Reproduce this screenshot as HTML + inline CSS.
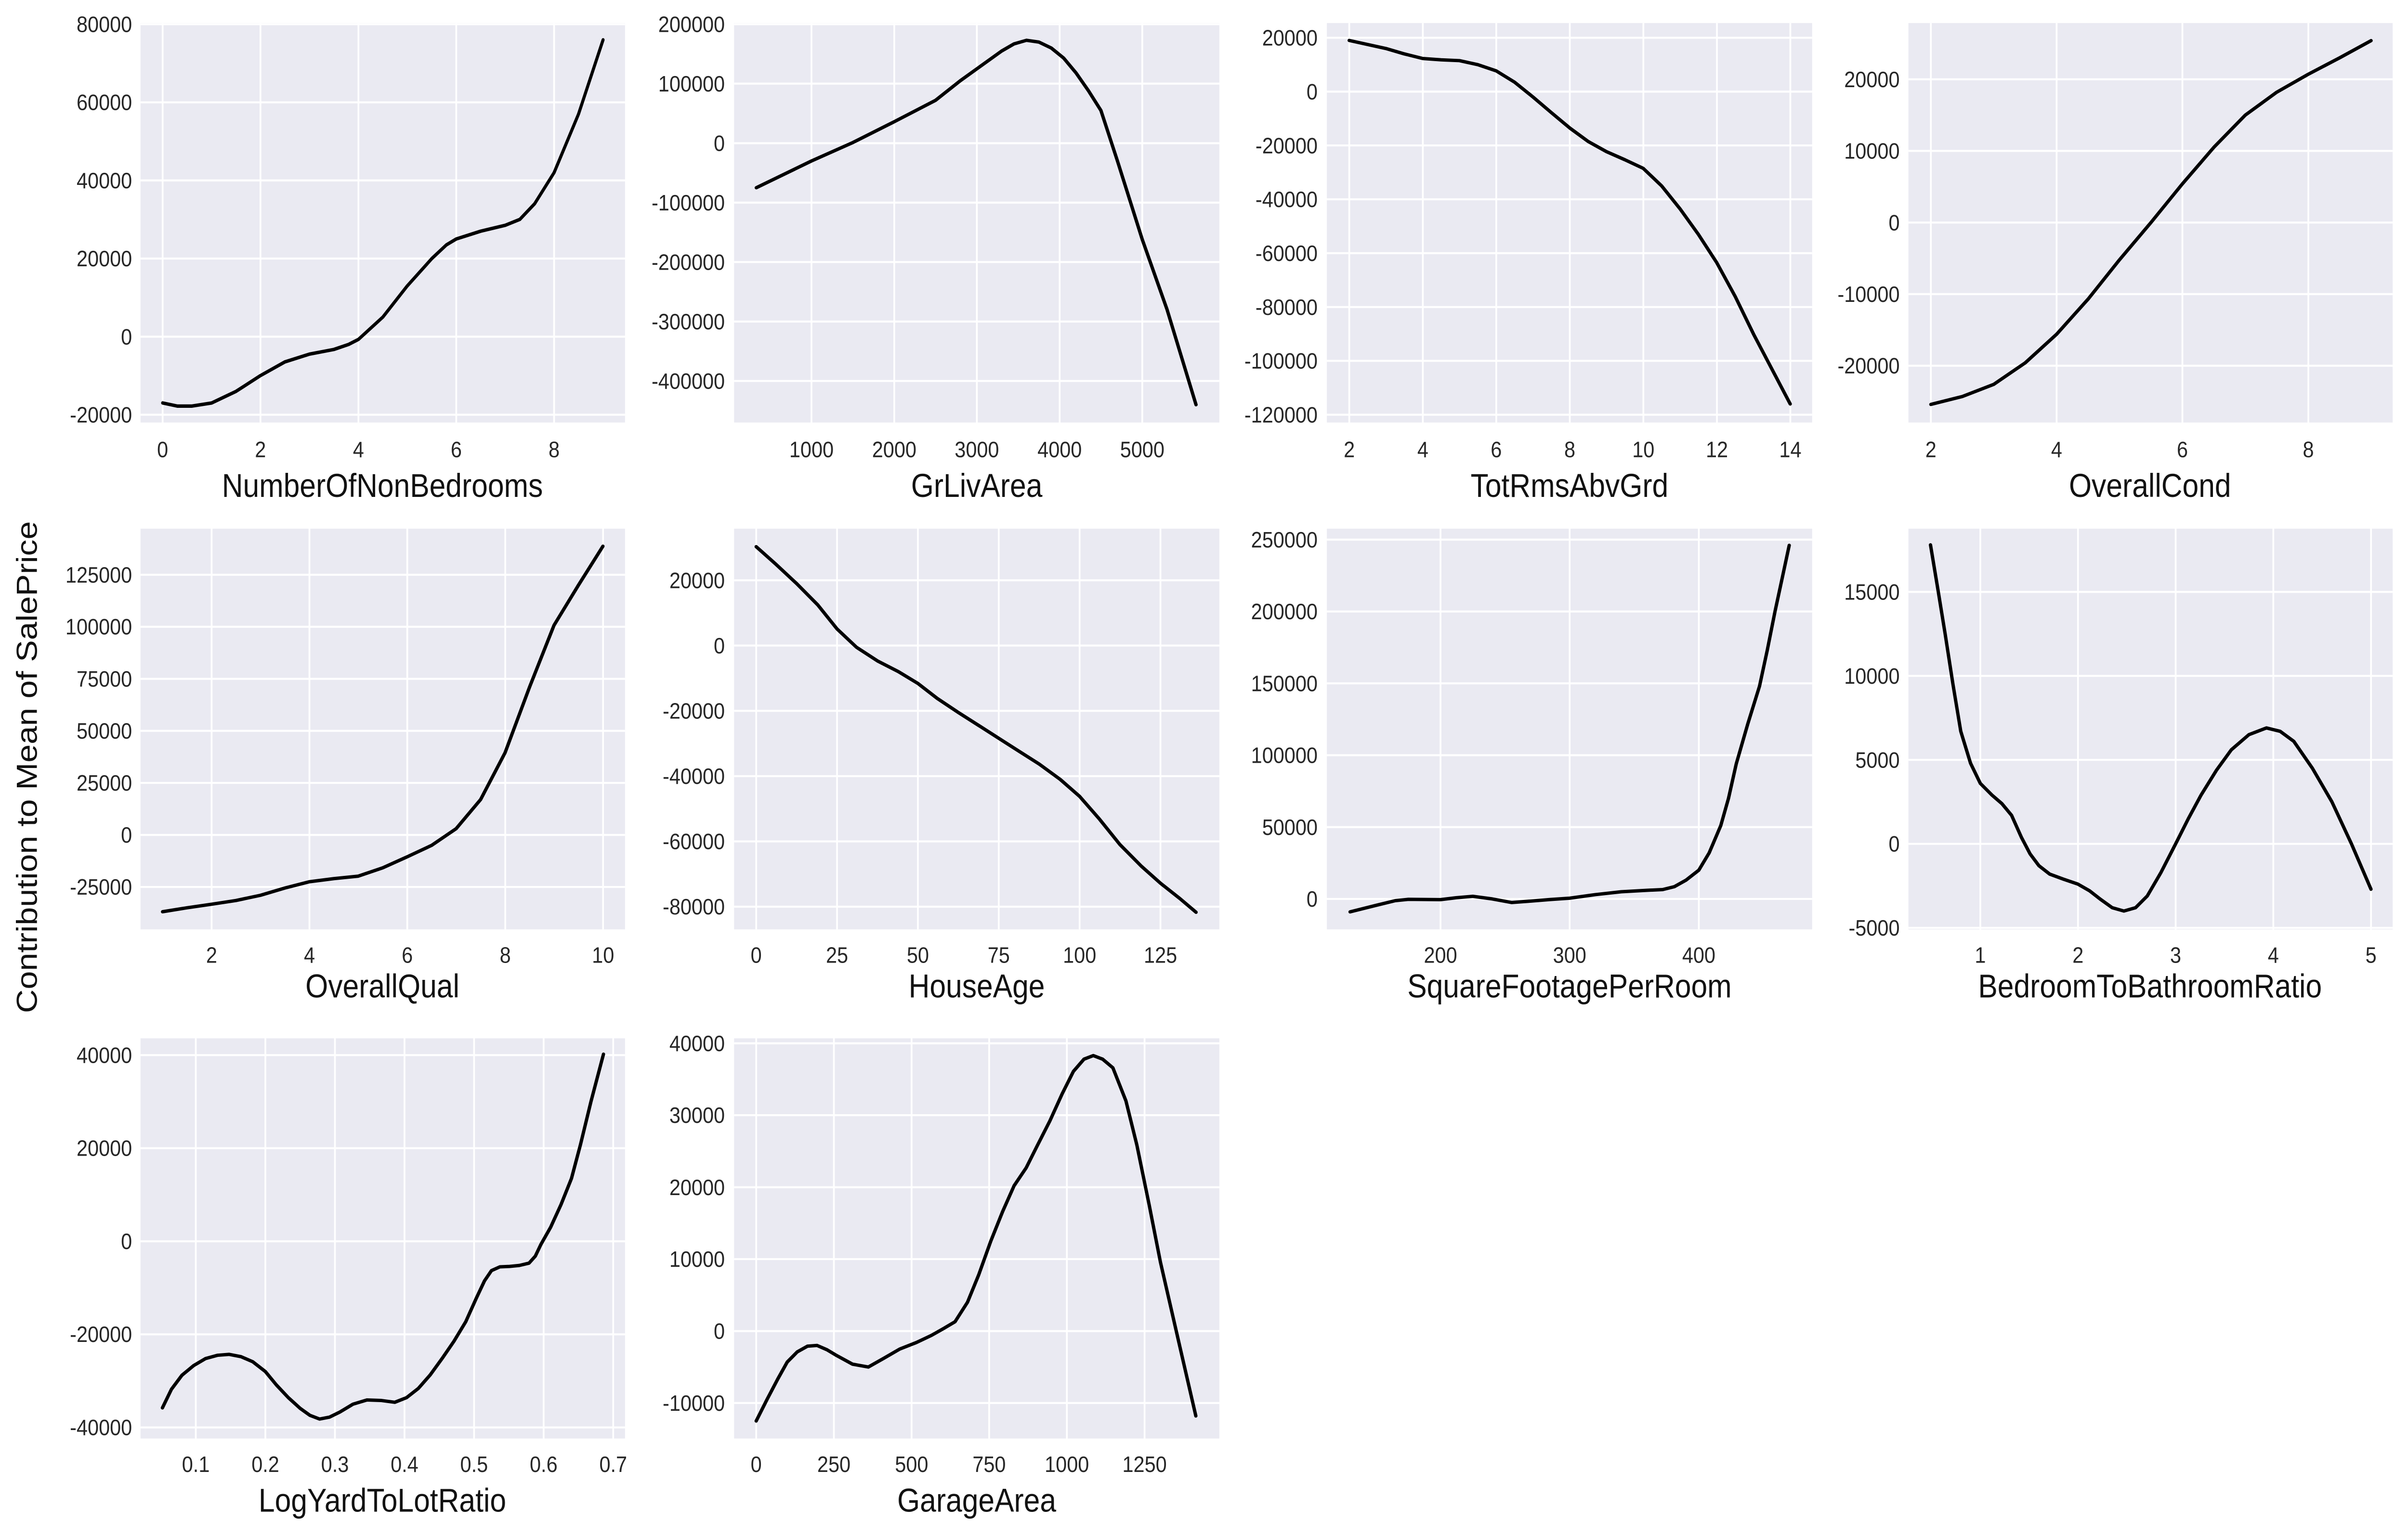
<!DOCTYPE html>
<html><head><meta charset="utf-8"><style>
html,body{margin:0;padding:0;background:#fff;width:100%;height:100%;overflow:hidden;}
svg{display:block;width:100vw;height:100vh;}
.bg{fill:#EAEAF2;}
.g line{stroke:#fff;stroke-width:1.15;}
.c{fill:none;stroke:#000;stroke-width:2;stroke-linejoin:round;stroke-linecap:round;}
.t{font-family:"Liberation Sans",sans-serif;font-size:13px;fill:#262626;}
.ty{text-anchor:end;}
.tx{text-anchor:middle;}
.l{font-family:"Liberation Sans",sans-serif;font-size:19px;fill:#111;text-anchor:middle;}
</style></head><body>
<svg viewBox="0 0 1568 887" preserveAspectRatio="none" xmlns="http://www.w3.org/2000/svg">
<text class="l" transform="translate(24,443) rotate(-90)">Contribution to Mean of SalePrice</text>

<!-- P1 -->
<rect class="bg" x="91.5" y="13.3" width="315.5" height="230.7"/>
<g class="g">
<line x1="91.5" x2="407" y1="14" y2="14"/><line x1="91.5" x2="407" y1="59.1" y2="59.1"/><line x1="91.5" x2="407" y1="104.2" y2="104.2"/><line x1="91.5" x2="407" y1="149.3" y2="149.3"/><line x1="91.5" x2="407" y1="194.4" y2="194.4"/><line x1="91.5" x2="407" y1="239.5" y2="239.5"/>
<line y1="13.3" y2="244" x1="105.9" x2="105.9"/><line y1="13.3" y2="244" x1="169.6" x2="169.6"/><line y1="13.3" y2="244" x1="233.4" x2="233.4"/><line y1="13.3" y2="244" x1="297.1" x2="297.1"/><line y1="13.3" y2="244" x1="360.8" x2="360.8"/>
</g>
<g class="t ty"><text x="86" y="18.5">80000</text><text x="86" y="63.6">60000</text><text x="86" y="108.7">40000</text><text x="86" y="153.8">20000</text><text x="86" y="198.9">0</text><text x="86" y="244">-20000</text></g>
<g class="t tx"><text x="105.9" y="264">0</text><text x="169.6" y="264">2</text><text x="233.4" y="264">4</text><text x="297.1" y="264">6</text><text x="360.8" y="264">8</text></g>
<text class="l" x="249" y="287">NumberOfNonBedrooms</text>
<path class="c" d="M105.9,232.7 L115.5,234.5 L125,234.5 L137.8,232.7 L153.7,226 L169.6,216.9 L185.5,209 L201.5,204.5 L217.4,201.8 L227,198.9 L233.4,196 L249.3,183.1 L265.2,165.1 L281.2,149.3 L290.7,141.4 L297.1,138.0 L313,133.5 L329,130.1 L338.5,126.7 L348.1,117.7 L360.8,99.7 L376.7,65.9 L392.7,23"/>

<!-- P2 -->
<rect class="bg" x="478" y="13.3" width="316" height="230.7"/>
<g class="g">
<line x1="478" x2="794" y1="14" y2="14"/><line x1="478" x2="794" y1="48.3" y2="48.3"/><line x1="478" x2="794" y1="82.7" y2="82.7"/><line x1="478" x2="794" y1="117" y2="117"/><line x1="478" x2="794" y1="151.3" y2="151.3"/><line x1="478" x2="794" y1="185.7" y2="185.7"/><line x1="478" x2="794" y1="220" y2="220"/>
<line y1="13.3" y2="244" x1="528.4" x2="528.4"/><line y1="13.3" y2="244" x1="582.3" x2="582.3"/><line y1="13.3" y2="244" x1="636.1" x2="636.1"/><line y1="13.3" y2="244" x1="690" x2="690"/><line y1="13.3" y2="244" x1="743.8" x2="743.8"/>
</g>
<g class="t ty"><text x="472" y="18.5">200000</text><text x="472" y="52.8">100000</text><text x="472" y="87.2">0</text><text x="472" y="121.5">-100000</text><text x="472" y="155.8">-200000</text><text x="472" y="190.2">-300000</text><text x="472" y="224.5">-400000</text></g>
<g class="t tx"><text x="528.4" y="264">1000</text><text x="582.3" y="264">2000</text><text x="636.1" y="264">3000</text><text x="690" y="264">4000</text><text x="743.8" y="264">5000</text></g>
<text class="l" x="636" y="287">GrLivArea</text>
<polyline class="c" vector-effect="non-scaling-stroke" style="stroke-width:7" transform="matrix(0.05385 0 0 -0.0003433 474.55 82.66)" points="333,-75000 1000,-30000 1500,1000 2000,36000 2500,72000 2800,105000 3000,125000 3300,155000 3450,167000 3600,173000 3750,170000 3900,160000 4050,143000 4200,118000 4350,88000 4500,55000 4700,-30000 5000,-162000 5300,-280000 5650,-440000"/>

<!-- P3 -->
<rect class="bg" x="864" y="13.3" width="316" height="230.7"/>
<g class="g">
<line x1="864" x2="1180" y1="21.8" y2="21.8"/><line x1="864" x2="1180" y1="52.9" y2="52.9"/><line x1="864" x2="1180" y1="84" y2="84"/><line x1="864" x2="1180" y1="115.1" y2="115.1"/><line x1="864" x2="1180" y1="146.2" y2="146.2"/><line x1="864" x2="1180" y1="177.3" y2="177.3"/><line x1="864" x2="1180" y1="208.4" y2="208.4"/><line x1="864" x2="1180" y1="239.5" y2="239.5"/>
<line y1="13.3" y2="244" x1="878.6" x2="878.6"/><line y1="13.3" y2="244" x1="926.5" x2="926.5"/><line y1="13.3" y2="244" x1="974.3" x2="974.3"/><line y1="13.3" y2="244" x1="1022.2" x2="1022.2"/><line y1="13.3" y2="244" x1="1070.1" x2="1070.1"/><line y1="13.3" y2="244" x1="1118" x2="1118"/><line y1="13.3" y2="244" x1="1165.8" x2="1165.8"/>
</g>
<g class="t ty"><text x="858" y="26.3">20000</text><text x="858" y="57.4">0</text><text x="858" y="88.5">-20000</text><text x="858" y="119.6">-40000</text><text x="858" y="150.7">-60000</text><text x="858" y="181.8">-80000</text><text x="858" y="212.9">-100000</text><text x="858" y="244">-120000</text></g>
<g class="t tx"><text x="878.6" y="264">2</text><text x="926.5" y="264">4</text><text x="974.3" y="264">6</text><text x="1022.2" y="264">8</text><text x="1070.1" y="264">10</text><text x="1118" y="264">12</text><text x="1165.8" y="264">14</text></g>
<text class="l" x="1022" y="287">TotRmsAbvGrd</text>
<polyline class="c" vector-effect="non-scaling-stroke" style="stroke-width:7" transform="matrix(23.93 0 0 -0.001555 830.7 52.9)" points="2,19000 3,16000 3.5,14000 4,12300 4.5,11800 5,11500 5.5,10000 6,7700 6.5,3500 7,-2000 7.5,-7800 8,-13500 8.5,-18500 9,-22300 9.5,-25300 10,-28500 10.5,-35000 11,-43500 11.5,-53000 12,-63500 12.5,-76000 13,-90000 13.5,-103000 14,-116000"/>

<!-- P4 -->
<rect class="bg" x="1242.7" y="13.3" width="315.3" height="230.7"/>
<g class="g">
<line x1="1242.7" x2="1558" y1="45.8" y2="45.8"/><line x1="1242.7" x2="1558" y1="87.15" y2="87.15"/><line x1="1242.7" x2="1558" y1="128.5" y2="128.5"/><line x1="1242.7" x2="1558" y1="169.85" y2="169.85"/><line x1="1242.7" x2="1558" y1="211.2" y2="211.2"/>
<line y1="13.3" y2="244" x1="1257.3" x2="1257.3"/><line y1="13.3" y2="244" x1="1339.2" x2="1339.2"/><line y1="13.3" y2="244" x1="1421.1" x2="1421.1"/><line y1="13.3" y2="244" x1="1503.1" x2="1503.1"/>
</g>
<g class="t ty"><text x="1237" y="50.3">20000</text><text x="1237" y="91.6">10000</text><text x="1237" y="133">0</text><text x="1237" y="174.3">-10000</text><text x="1237" y="215.7">-20000</text></g>
<g class="t tx"><text x="1257.3" y="264">2</text><text x="1339.2" y="264">4</text><text x="1421.1" y="264">6</text><text x="1503.1" y="264">8</text></g>
<text class="l" x="1400" y="287">OverallCond</text>
<polyline class="c" vector-effect="non-scaling-stroke" style="stroke-width:7" transform="matrix(40.95 0 0 -0.004135 1175.4 128.5)" points="2,-25400 2.5,-24300 3,-22600 3.5,-19600 4,-15600 4.5,-10700 5,-5200 5.5,0 6,5400 6.5,10500 7,15000 7.5,18200 8,20700 8.5,23000 9,25400"/>

<!-- P5 -->
<rect class="bg" x="91.5" y="305.3" width="315.5" height="231.4"/>
<g class="g">
<line x1="91.5" x2="407" y1="331.9" y2="331.9"/><line x1="91.5" x2="407" y1="361.95" y2="361.95"/><line x1="91.5" x2="407" y1="392" y2="392"/><line x1="91.5" x2="407" y1="422.05" y2="422.05"/><line x1="91.5" x2="407" y1="452.1" y2="452.1"/><line x1="91.5" x2="407" y1="482.15" y2="482.15"/><line x1="91.5" x2="407" y1="512.2" y2="512.2"/>
<line y1="305.3" y2="536.7" x1="137.8" x2="137.8"/><line y1="305.3" y2="536.7" x1="201.5" x2="201.5"/><line y1="305.3" y2="536.7" x1="265.2" x2="265.2"/><line y1="305.3" y2="536.7" x1="329" x2="329"/><line y1="305.3" y2="536.7" x1="392.7" x2="392.7"/>
</g>
<g class="t ty"><text x="86" y="336.4">125000</text><text x="86" y="366.4">100000</text><text x="86" y="396.5">75000</text><text x="86" y="426.5">50000</text><text x="86" y="456.6">25000</text><text x="86" y="486.6">0</text><text x="86" y="516.7">-25000</text></g>
<g class="t tx"><text x="137.8" y="556">2</text><text x="201.5" y="556">4</text><text x="265.2" y="556">6</text><text x="329" y="556">8</text><text x="392.7" y="556">10</text></g>
<text class="l" x="249" y="576">OverallQual</text>
<polyline class="c" vector-effect="non-scaling-stroke" style="stroke-width:7" transform="matrix(31.86 0 0 -0.001202 74 482.15)" points="1,-36900 1.5,-35000 2,-33300 2.5,-31500 3,-29000 3.5,-25500 4,-22500 4.5,-21000 5,-19800 5.5,-15800 6,-10500 6.5,-5000 7,3000 7.5,17000 8,39500 8.5,71000 9,100700 9.5,120000 10,138700"/>

<!-- P6 -->
<rect class="bg" x="478" y="305.3" width="316" height="231.4"/>
<g class="g">
<line x1="478" x2="794" y1="335.1" y2="335.1"/><line x1="478" x2="794" y1="372.8" y2="372.8"/><line x1="478" x2="794" y1="410.5" y2="410.5"/><line x1="478" x2="794" y1="448.2" y2="448.2"/><line x1="478" x2="794" y1="485.9" y2="485.9"/><line x1="478" x2="794" y1="523.6" y2="523.6"/>
<line y1="305.3" y2="536.7" x1="492.4" x2="492.4"/><line y1="305.3" y2="536.7" x1="545.05" x2="545.05"/><line y1="305.3" y2="536.7" x1="597.7" x2="597.7"/><line y1="305.3" y2="536.7" x1="650.35" x2="650.35"/><line y1="305.3" y2="536.7" x1="703" x2="703"/><line y1="305.3" y2="536.7" x1="755.65" x2="755.65"/>
</g>
<g class="t ty"><text x="472" y="339.6">20000</text><text x="472" y="377.3">0</text><text x="472" y="415">-20000</text><text x="472" y="452.7">-40000</text><text x="472" y="490.4">-60000</text><text x="472" y="528.1">-80000</text></g>
<g class="t tx"><text x="492.4" y="556">0</text><text x="545.05" y="556">25</text><text x="597.7" y="556">50</text><text x="650.35" y="556">75</text><text x="703" y="556">100</text><text x="755.65" y="556">125</text></g>
<text class="l" x="636" y="576">HouseAge</text>
<polyline class="c" vector-effect="non-scaling-stroke" style="stroke-width:7" transform="matrix(2.106 0 0 -0.001885 492.4 372.8)" points="0,30300 6,25000 12.5,19000 19,12500 25,5100 31,-500 37.5,-4700 44,-8000 50,-11600 56,-16200 62.5,-20500 69,-24600 75,-28400 81,-32200 87.5,-36300 94,-41000 100,-46200 106,-53000 112.5,-61000 119,-67500 125,-72800 131,-77500 136,-81700"/>

<!-- P7 -->
<rect class="bg" x="864" y="305.3" width="316" height="231.4"/>
<g class="g">
<line x1="864" x2="1180" y1="311.6" y2="311.6"/><line x1="864" x2="1180" y1="353.1" y2="353.1"/><line x1="864" x2="1180" y1="394.6" y2="394.6"/><line x1="864" x2="1180" y1="436.1" y2="436.1"/><line x1="864" x2="1180" y1="477.6" y2="477.6"/><line x1="864" x2="1180" y1="519.1" y2="519.1"/>
<line y1="305.3" y2="536.7" x1="938" x2="938"/><line y1="305.3" y2="536.7" x1="1022.1" x2="1022.1"/><line y1="305.3" y2="536.7" x1="1106.2" x2="1106.2"/>
</g>
<g class="t ty"><text x="858" y="316.1">250000</text><text x="858" y="357.6">200000</text><text x="858" y="399.1">150000</text><text x="858" y="440.6">100000</text><text x="858" y="482.1">50000</text><text x="858" y="523.6">0</text></g>
<g class="t tx"><text x="938" y="556">200</text><text x="1022.1" y="556">300</text><text x="1106.2" y="556">400</text></g>
<text class="l" x="1022" y="576">SquareFootagePerRoom</text>
<polyline class="c" vector-effect="non-scaling-stroke" style="stroke-width:7" transform="matrix(0.841 0 0 -0.00083 769.8 519.1)" points="130,-9000 150,-4500 165,-1200 175,-300 200,-500 212,800 225,1800 240,0 255,-2500 270,-1500 285,-400 300,500 320,3000 340,5000 360,6000 372,6500 381,8500 390,13000 400,20000 408,32000 417,51000 423,70000 429,94000 438,122000 447,148000 453,173000 459,200000 465,225000 470,246000"/>

<!-- P8 -->
<rect class="bg" x="1242.7" y="305.3" width="315.3" height="231.4"/>
<g class="g">
<line x1="1242.7" x2="1558" y1="341.8" y2="341.8"/><line x1="1242.7" x2="1558" y1="390.3" y2="390.3"/><line x1="1242.7" x2="1558" y1="438.8" y2="438.8"/><line x1="1242.7" x2="1558" y1="487.3" y2="487.3"/><line x1="1242.7" x2="1558" y1="535.8" y2="535.8"/>
<line y1="305.3" y2="536.7" x1="1289.5" x2="1289.5"/><line y1="305.3" y2="536.7" x1="1353.1" x2="1353.1"/><line y1="305.3" y2="536.7" x1="1416.7" x2="1416.7"/><line y1="305.3" y2="536.7" x1="1480.3" x2="1480.3"/><line y1="305.3" y2="536.7" x1="1543.9" x2="1543.9"/>
</g>
<g class="t ty"><text x="1237" y="346.3">15000</text><text x="1237" y="394.8">10000</text><text x="1237" y="443.3">5000</text><text x="1237" y="491.8">0</text><text x="1237" y="540.3">-5000</text></g>
<g class="t tx"><text x="1289.5" y="556">1</text><text x="1353.1" y="556">2</text><text x="1416.7" y="556">3</text><text x="1480.3" y="556">4</text><text x="1543.9" y="556">5</text></g>
<text class="l" x="1400" y="576">BedroomToBathroomRatio</text>
<polyline class="c" vector-effect="non-scaling-stroke" style="stroke-width:7" transform="matrix(63.6 0 0 -0.0097 1225.9 487.3)" points="0.49,17800 0.57,15000 0.64,12500 0.72,9500 0.8,6700 0.9,4800 1,3600 1.12,2900 1.22,2400 1.32,1700 1.42,400 1.51,-600 1.6,-1300 1.71,-1800 1.85,-2100 2,-2400 2.12,-2800 2.23,-3300 2.35,-3800 2.47,-4000 2.59,-3800 2.71,-3100 2.85,-1700 3,0 3.13,1500 3.26,2900 3.42,4400 3.57,5600 3.75,6500 3.93,6900 4.07,6700 4.21,6100 4.4,4500 4.6,2500 4.8,0 5,-2700"/>

<!-- P9 -->
<rect class="bg" x="91.5" y="599.6" width="315.5" height="231.1"/>
<g class="g">
<line x1="91.5" x2="407" y1="609.3" y2="609.3"/><line x1="91.5" x2="407" y1="663.05" y2="663.05"/><line x1="91.5" x2="407" y1="716.8" y2="716.8"/><line x1="91.5" x2="407" y1="770.55" y2="770.55"/><line x1="91.5" x2="407" y1="824.3" y2="824.3"/>
<line y1="599.6" y2="830.7" x1="127.5" x2="127.5"/><line y1="599.6" y2="830.7" x1="172.8" x2="172.8"/><line y1="599.6" y2="830.7" x1="218.1" x2="218.1"/><line y1="599.6" y2="830.7" x1="263.4" x2="263.4"/><line y1="599.6" y2="830.7" x1="308.7" x2="308.7"/><line y1="599.6" y2="830.7" x1="354" x2="354"/><line y1="599.6" y2="830.7" x1="399.3" x2="399.3"/>
</g>
<g class="t ty"><text x="86" y="613.8">40000</text><text x="86" y="667.5">20000</text><text x="86" y="721.3">0</text><text x="86" y="775">-20000</text><text x="86" y="828.8">-40000</text></g>
<g class="t tx"><text x="127.5" y="850">0.1</text><text x="172.8" y="850">0.2</text><text x="218.1" y="850">0.3</text><text x="263.4" y="850">0.4</text><text x="308.7" y="850">0.5</text><text x="354" y="850">0.6</text><text x="399.3" y="850">0.7</text></g>
<text class="l" x="249" y="873">LogYardToLotRatio</text>
<polyline class="c" vector-effect="non-scaling-stroke" style="stroke-width:7" transform="matrix(453 0 0 -0.0026875 82.2 716.8)" points="0.052,-35800 0.065,-31800 0.08,-28800 0.097,-26700 0.114,-25200 0.131,-24500 0.148,-24300 0.165,-24800 0.182,-25900 0.2,-28000 0.216,-30900 0.233,-33600 0.25,-35900 0.264,-37400 0.278,-38200 0.292,-37800 0.307,-36700 0.326,-35000 0.346,-34100 0.366,-34200 0.386,-34600 0.403,-33600 0.42,-31600 0.437,-28700 0.454,-25200 0.471,-21500 0.488,-17300 0.503,-12300 0.515,-8500 0.525,-6300 0.537,-5500 0.551,-5400 0.565,-5200 0.579,-4700 0.588,-3200 0.596,-700 0.61,3000 0.625,7900 0.64,13500 0.653,20800 0.668,30000 0.686,40200"/>

<!-- P10 -->
<rect class="bg" x="478" y="599.6" width="316" height="231.1"/>
<g class="g">
<line x1="478" x2="794" y1="602.5" y2="602.5"/><line x1="478" x2="794" y1="644" y2="644"/><line x1="478" x2="794" y1="685.6" y2="685.6"/><line x1="478" x2="794" y1="727.1" y2="727.1"/><line x1="478" x2="794" y1="768.66" y2="768.66"/><line x1="478" x2="794" y1="810.2" y2="810.2"/>
<line y1="599.6" y2="830.7" x1="492.4" x2="492.4"/><line y1="599.6" y2="830.7" x1="543" x2="543"/><line y1="599.6" y2="830.7" x1="593.6" x2="593.6"/><line y1="599.6" y2="830.7" x1="644.1" x2="644.1"/><line y1="599.6" y2="830.7" x1="694.7" x2="694.7"/><line y1="599.6" y2="830.7" x1="745.3" x2="745.3"/>
</g>
<g class="t ty"><text x="472" y="607">40000</text><text x="472" y="648.5">30000</text><text x="472" y="690.1">20000</text><text x="472" y="731.6">10000</text><text x="472" y="773.2">0</text><text x="472" y="814.7">-10000</text></g>
<g class="t tx"><text x="492.4" y="850">0</text><text x="543" y="850">250</text><text x="593.6" y="850">500</text><text x="644.1" y="850">750</text><text x="694.7" y="850">1000</text><text x="745.3" y="850">1250</text></g>
<text class="l" x="636" y="873">GarageArea</text>
<polyline class="c" vector-effect="non-scaling-stroke" style="stroke-width:7" transform="matrix(0.20232 0 0 -0.004154 492.4 768.66)" points="0,-12500 35,-9500 69,-6700 100,-4300 132,-2900 165,-2100 196,-2000 228,-2600 259,-3400 310,-4600 361,-5000 410,-3800 462,-2500 515,-1600 564,-600 605,400 640,1300 680,4000 716,7800 755,12500 793,16600 830,20200 869,22700 905,25800 945,29200 985,33000 1021,36100 1055,37800 1085,38300 1115,37800 1148,36600 1190,32000 1225,25900 1265,17500 1301,9600 1360,-1500 1415,-11800"/>
</svg>
</body></html>
